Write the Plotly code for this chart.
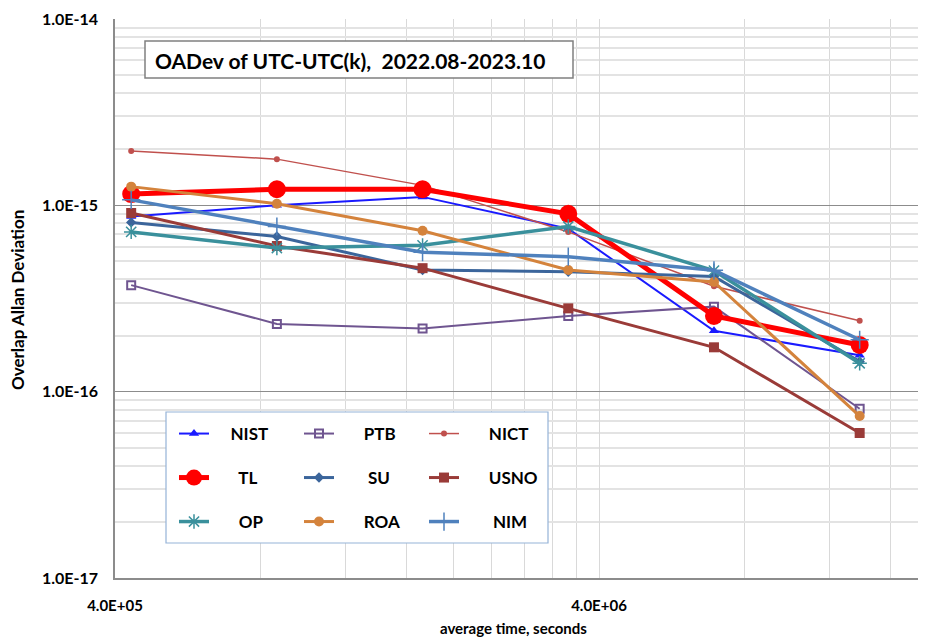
import plotly.graph_objects as go
import numpy as np

# ---- data ----
tau = [432000, 864000, 1728000, 3456000, 6912000, 13824000]
names = ["NIST", "PTB", "NICT", "TL", "SU", "USNO", "OP", "ROA", "NIM"]
NIST = [8.7e-16, 1.0e-15, 1.11e-15, 7.5e-16, 2.12e-16, 1.57e-16]
PTB = [3.73e-16, 2.31e-16, 2.18e-16, 2.55e-16, 2.86e-16, 8.1e-17]
NICT = [1.96e-15, 1.77e-15, 1.28e-15, 7.2e-16, 3.68e-16, 2.4e-16]
TL = [1.15e-15, 1.22e-15, 1.22e-15, 9.0e-16, 2.55e-16, 1.78e-16]
SU = [8.1e-16, 6.8e-16, 4.5e-16, 4.4e-16, 4.15e-16, 1.45e-16]
USNO = [9.1e-16, 6.05e-16, 4.6e-16, 2.8e-16, 1.73e-16, 6.0e-17]
OP = [7.2e-16, 5.9e-16, 6.1e-16, 7.7e-16, 4.46e-16, 1.42e-16]
ROA = [1.26e-15, 1.02e-15, 7.3e-16, 4.5e-16, 3.88e-16, 7.4e-17]
NIM = [1.07e-15, 7.7e-16, 5.6e-16, 5.3e-16, 4.48e-16, 1.9e-16]
series = [NIST, PTB, NICT, TL, SU, USNO, OP, ROA, NIM]

x_tickvals = [4e5, 4e6]
x_ticktext = ["4.0E+05", "4.0E+06"]
y_tickvals = [1e-17, 1e-16, 1e-15, 1e-14]
y_ticktext = ["1.0E-17", "1.0E-16", "1.0E-15", "1.0E-14"]
title_text = "OADev of UTC-UTC(k),  2022.08-2023.10"
x_title = "average time, seconds"
y_title = "Overlap Allan Deviation"

# ---- styles ----
styles = {
    "NIST": dict(color="#1a1aff", lw=2, sym="triangle-up", ms=9, mlw=0),
    "PTB": dict(color="#6f5590", lw=2, sym="square-open", ms=8, mlw=2),
    "NICT": dict(color="#c0504d", lw=1.5, sym="circle", ms=6, mlw=0),
    "TL": dict(color="#ff0000", lw=5, sym="circle", ms=18, mlw=0),
    "SU": dict(color="#3b659b", lw=3, sym="diamond", ms=8, mlw=0),
    "USNO": dict(color="#9a3b38", lw=3, sym="square", ms=10, mlw=0),
    "OP": dict(color="#3a909c", lw=3.5, sym="asterisk-open", ms=12, mlw=1.5),
    "ROA": dict(color="#d4833c", lw=3, sym="circle", ms=10, mlw=0),
    "NIM": dict(color="#4f81bd", lw=3.5, sym="cross-thin-open", ms=13, mlw=1.5),
}
# gap (non-breaking spaces) between legend symbol and label
label_pad = {"NIST": 4, "PTB": 6, "NICT": 6, "TL": 6, "SU": 7, "USNO": 6,
             "OP": 6, "ROA": 6, "NIM": 7}

FONT = "Lato"
OFF = 8  # browser default body margin
PAGE_W, PAGE_H = 926, 641
W, H = PAGE_W - OFF, PAGE_H - OFF
# plot area in page pixels: x 115..926, y 19..578
L = 115 - OFF
T = 19 - OFF
R = 0
B = PAGE_H - 578
PW, PH = W - L - R, H - T - B

def px(x):  # page x -> paper
    return (x - OFF - L) / PW

def py(y):  # page y -> paper
    return (H - B - (y - OFF)) / PH

NB = "\u00a0"
legend_rows = [["NIST", "PTB", "NICT"], ["TL", "SU", "USNO"], ["OP", "ROA", "NIM"]]
legend_ids = ["legend", "legend2", "legend3"]
row_y = [434, 478, 522]
which_legend = {}
for i, row in enumerate(legend_rows):
    for n in row:
        which_legend[n] = legend_ids[i]

fig = go.Figure()
for n, vals in zip(names, series):
    s = styles[n]
    fig.add_trace(go.Scatter(
        x=tau, y=vals, name=NB * label_pad[n] + n, mode="lines+markers",
        line=dict(color=s["color"], width=s["lw"]),
        marker=dict(symbol=s["sym"], size=s["ms"], color=s["color"],
                    line=dict(color=s["color"], width=s["mlw"])),
        legend=which_legend[n],
    ))

x0 = np.log10(4e5)
x1 = x0 + PW / 484.0

minor_x = [4e5 * k for k in range(2, 10)] + [4e6 * k for k in range(2, 10)]
minor_y = [m * 10.0 ** e for e in (-17, -16, -15) for m in range(2, 10)]

legend_common = dict(
    orientation="h", bgcolor="rgba(0,0,0,0)", borderwidth=0,
    font=dict(family=FONT, size=17, color="black", weight="bold"),
    entrywidth=80, entrywidthmode="pixels",
    xanchor="left", yanchor="middle", itemsizing="trace",
)
legend_layouts = {}
for i, lid in enumerate(legend_ids):
    legend_layouts[lid] = dict(legend_common, x=px(174), y=py(row_y[i]))

fig.update_layout(
    width=W, height=H,
    margin=dict(l=L, r=R, t=T, b=B, pad=0),
    paper_bgcolor="white", plot_bgcolor="white",
    showlegend=True,
    font=dict(family=FONT, color="black"),
    xaxis=dict(
        type="log", range=[x0, x1],
        tickvals=x_tickvals, ticktext=x_ticktext,
        tickfont=dict(family=FONT, size=15, color="black", weight="bold"),
        ticks="", ticklabelstandoff=13,
        showgrid=True, gridcolor="#d9d9d9", gridwidth=1,
        minor=dict(tickvals=minor_x, showgrid=True, gridcolor="#d9d9d9", gridwidth=1, ticks=""),
        showline=True, linecolor="#8c8c8c", linewidth=1.5, mirror=False,
        zeroline=False,
    ),
    yaxis=dict(
        type="log", range=[-17, -14],
        tickvals=y_tickvals, ticktext=y_ticktext,
        tickfont=dict(family=FONT, size=16, color="black", weight="bold"),
        ticks="", ticklabelstandoff=12,
        showgrid=True, gridcolor="#8c8c8c", gridwidth=1.2,
        minor=dict(tickvals=minor_y, showgrid=True, gridcolor="#e3e3e3", gridwidth=1.5, ticks=""),
        showline=True, linecolor="#8c8c8c", linewidth=1.5,
        zeroline=False,
    ),
    **legend_layouts,
)

# legend box and title box
fig.add_shape(type="rect", xref="paper", yref="paper",
              x0=px(166), x1=px(548), y0=py(543), y1=py(412),
              line=dict(color="#95b3d7", width=1.2), fillcolor="white", layer="above")
fig.add_shape(type="rect", xref="paper", yref="paper",
              x0=px(145), x1=px(573), y0=py(78), y1=py(41),
              line=dict(color="#808080", width=1.5), fillcolor="white", layer="above")

fig.add_annotation(text=title_text, xref="paper", yref="paper",
                   x=px(153), y=py(60), xanchor="left", yanchor="middle", showarrow=False,
                   font=dict(family=FONT, size=21, color="black", weight="bold"))
fig.add_annotation(text=x_title, xref="paper", yref="paper",
                   x=px(513), y=py(628), xanchor="center", yanchor="middle", showarrow=False,
                   font=dict(family=FONT, size=15, color="black", weight="bold"))
fig.add_annotation(text=y_title, xref="paper", yref="paper",
                   x=px(17), y=py(300), xanchor="center", yanchor="middle", showarrow=False,
                   textangle=-90,
                   font=dict(family=FONT, size=17, color="black", weight="bold"))

fig.write_html("out.html")
